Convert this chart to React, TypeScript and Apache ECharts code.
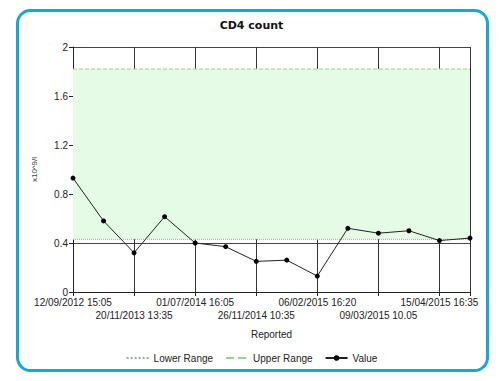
import React, { useEffect, useRef } from "react";
import * as echarts from "echarts";

const categories = [
  "12/09/2012 15:05", "", "20/11/2013 13:35", "", "01/07/2014 16:05", "",
  "26/11/2014 10:35", "", "06/02/2015 16:20", "", "09/03/2015 10.05", "",
  "15/04/2015 16:35", "",
];
const values = [0.93, 0.58, 0.32, 0.615, 0.4, 0.37, 0.25, 0.26, 0.13, 0.52, 0.48, 0.5, 0.42, 0.44];
const lowerRange = 0.43;
const upperRange = 1.82;
const yTicks = { min: 0, max: 2, interval: 0.4 };

const FONT = "'Liberation Sans', Arial, sans-serif";

export default function App() {
  const ref = useRef<HTMLDivElement>(null);
  useEffect(() => {
    document.body.style.margin = "0";
    const chart = echarts.init(ref.current!, null, { renderer: "svg" });
    const labelBase = { fontFamily: FONT, fontSize: 10, color: "#222", hideOverlap: false, showMinLabel: true, showMaxLabel: true };
    chart.setOption({
      animation: false,
      backgroundColor: "#ffffff",
      title: {
        text: "CD4 count",
        left: "center",
        top: 15,
        textStyle: { fontFamily: "'DejaVu Sans', Verdana, sans-serif", fontSize: 11, fontWeight: "bold", color: "#111" },
      },
      graphic: [
        {
          type: "rect",
          shape: { x: 17.5, y: 10.5, width: 470, height: 360, r: 13 },
          style: { fill: "none", stroke: "#17a6d6", lineWidth: 3 },
          silent: true,
        },
      ],
      grid: { left: 73, right: 33, top: 47, bottom: 89 },
      legend: {
        bottom: 13,
        left: "center",
        itemWidth: 22,
        itemHeight: 7,
        itemGap: 12,
        textStyle: { fontFamily: FONT, fontSize: 10, color: "#222" },
        data: [
          { name: "Lower Range", itemStyle: { opacity: 0 } },
          { name: "Upper Range", itemStyle: { opacity: 0 } },
          { name: "Value" },
        ],
      },
      xAxis: [
        {
          type: "category",
          boundaryGap: false,
          data: categories,
          position: "bottom",
          name: "Reported",
          nameLocation: "middle",
          nameGap: 37,
          nameTextStyle: { fontFamily: FONT, fontSize: 10, color: "#222" },
          axisLine: { lineStyle: { color: "#222", width: 1 } },
          axisTick: { interval: 1, length: 4, lineStyle: { color: "#222" } },
          axisLabel: { ...labelBase, margin: 5, interval: (i: number) => i % 4 === 0 },
          splitLine: { show: true, interval: 1, lineStyle: { color: "#333", width: 1 } },
        },
        {
          type: "category",
          boundaryGap: false,
          data: categories,
          position: "bottom",
          offset: 0,
          axisLine: { show: false },
          axisTick: { show: false },
          axisLabel: { ...labelBase, margin: 18, interval: (i: number) => i % 4 === 2 },
          splitLine: { show: false },
        },
      ],
      yAxis: {
        type: "value",
        min: yTicks.min,
        max: yTicks.max,
        interval: yTicks.interval,
        name: "x10^9/l",
        nameLocation: "middle",
        nameGap: 35,
        nameTextStyle: { fontFamily: FONT, fontSize: 8, color: "#444" },
        axisLine: { show: true, lineStyle: { color: "#222" } },
        axisTick: { show: true, length: 4, lineStyle: { color: "#222" } },
        axisLabel: { margin: 5, fontFamily: FONT, fontSize: 10, color: "#222" },
        splitLine: { lineStyle: { color: "#444", width: 1 } },
      },
      series: [
        {
          name: "Lower Range",
          type: "line",
          data: categories.map(() => lowerRange),
          symbol: "none",
          lineStyle: { color: "#8db58d", width: 1, type: "dotted" },
          itemStyle: { color: "#8db58d" },
          z: 1,
        },
        {
          name: "Upper Range",
          type: "line",
          data: categories.map(() => upperRange),
          symbol: "none",
          lineStyle: { color: "#8ed88e", width: 1, type: "dashed" },
          itemStyle: { color: "#8ed88e" },
          z: 1,
        },
        {
          name: "Value",
          type: "line",
          data: values,
          symbol: "circle",
          symbolSize: 5,
          lineStyle: { color: "#222", width: 1 },
          itemStyle: { color: "#000" },
          z: 3,
          markArea: {
            silent: true,
            itemStyle: { color: "#e6fbe6" },
            data: [[{ yAxis: lowerRange }, { yAxis: upperRange }]],
          },
        },
      ],
    });
    return () => chart.dispose();
  }, []);
  return <div ref={ref} style={{ width: 503, height: 381 }} />;
}
